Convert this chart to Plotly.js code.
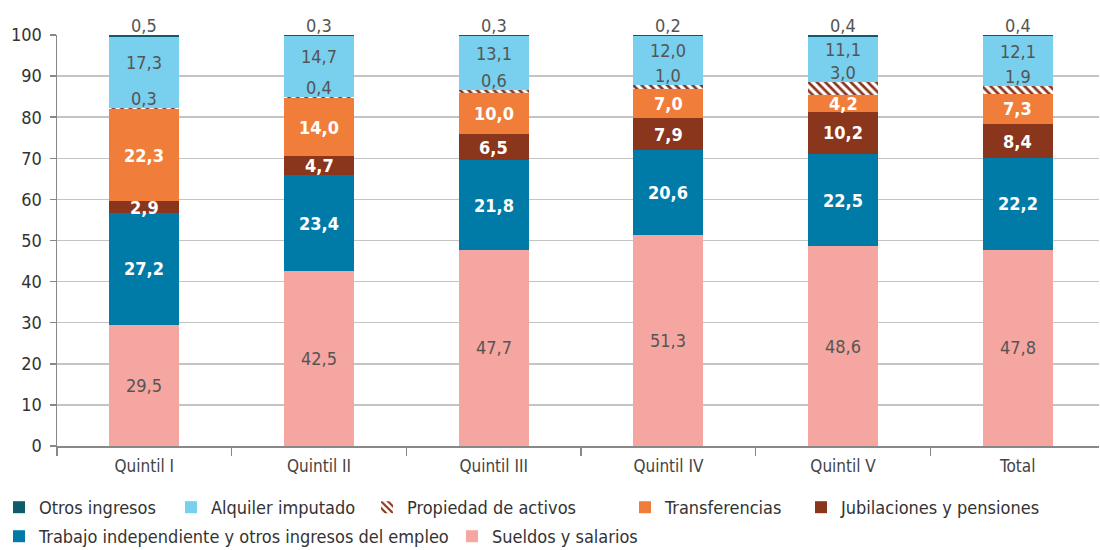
<!DOCTYPE html>
<html><head><meta charset="utf-8">
<script src="https://cdn.plot.ly/plotly-3.0.1.min.js"></script>
<style>html,body{margin:0;padding:0;background:#fff}#chart{width:1100px;height:550px}</style>
</head><body><div id="chart"></div>
<script>
var categories = ["Quintil I","Quintil II","Quintil III","Quintil IV","Quintil V","Total"];
var sueldos = [29.5, 42.5, 47.7, 51.3, 48.6, 47.8];
var trabajo = [27.2, 23.4, 21.8, 20.6, 22.5, 22.2];
var jubilaciones = [2.9, 4.7, 6.5, 7.9, 10.2, 8.4];
var transferencias = [22.3, 14.0, 10.0, 7.0, 4.2, 7.3];
var propiedad = [0.3, 0.4, 0.6, 1.0, 3.0, 1.9];
var alquiler = [17.3, 14.7, 13.1, 12.0, 11.1, 12.1];
var otros = [0.5, 0.3, 0.3, 0.2, 0.4, 0.4];
var yTicks = [0,10,20,30,40,50,60,70,80,90,100];

var FONT = '"Liberation Sans Narrow", "DejaVu Sans Condensed", "DejaVu Sans", sans-serif';
var series = [
  {name:"Sueldos y salarios", v:sueldos, color:"#f5a6a0", lab:"dark", lg:"legend7"},
  {name:"Trabajo independiente y otros ingresos del empleo", v:trabajo, color:"#007ba7", lab:"white", lg:"legend6"},
  {name:"Jubilaciones y pensiones", v:jubilaciones, color:"#8a361d", lab:"white", lg:"legend5"},
  {name:"Transferencias", v:transferencias, color:"#f07e3a", lab:"white", lg:"legend4"},
  {name:"Propiedad de activos", v:propiedad, color:"#ffffff", lab:"above", pattern:true, lg:"legend3"},
  {name:"Alquiler imputado", v:alquiler, color:"#78cfee", lab:"upper", lg:"legend2"},
  {name:"Otros ingresos", v:otros, color:"#0e5b6c", lab:"above", lg:"legend"}
];
function fmt(x){return x.toFixed(1).replace('.', ',');}

var traces = [];
var annotations = [];
var base = categories.map(function(){return 0;});
series.forEach(function(s){
  var marker = {color:s.color, line:{width:0}};
  if (s.pattern) marker.pattern = {shape:"\\", fgcolor:"#8a361d", bgcolor:"#ffffff", size:6, solidity:0.45, fillmode:"replace"};
  traces.push({type:"bar", name:s.name, x:categories, y:s.v, marker:marker, width:0.4, hoverinfo:"none", legend:s.lg});
  categories.forEach(function(c,i){
    var b = base[i], v = s.v[i];
    var a = {x:c, xref:"x", yref:"y", showarrow:false, text:fmt(v),
             font:{family:FONT, size:18, color:"#555555"}};
    if (s.lab === "white") { a.y = b + v/2; a.text = "<b>"+fmt(v)+"</b>"; a.font.color = "#ffffff"; }
    else if (s.lab === "dark") { a.y = b + v/2; }
    else if (s.lab === "upper") { a.y = b + v/2; a.yshift = 10; }
    else { a.y = Math.min(b + v, 99.9); a.yanchor = "bottom"; a.yshift = -3; }
    annotations.push(a);
    base[i] = b + v;
  });
});

// legend placement (pixel positions of the swatches converted to paper units)
var plotL = 57, plotW = 1042, plotB = 446, plotH = 411;
function lx(px){return (px - 13 - plotL)/plotW;}
function ly(py){return -(py - 13 - plotB)/plotH;}
function leg(px, py){
  return {orientation:"h", x:lx(px), xanchor:"left", y:ly(py), yanchor:"top",
          bgcolor:"rgba(0,0,0,0)", font:{family:FONT, size:18, color:"#333333"}};
}

var layout = {
  width:1100, height:550,
  margin:{l:57, r:1, t:35, b:104, autoexpand:false},
  barmode:"stack",
  paper_bgcolor:"#ffffff", plot_bgcolor:"#ffffff",
  font:{family:FONT, size:18, color:"#333333"},
  showlegend:true,
  legend: leg(12, 502),
  legend2: leg(184, 502),
  legend3: leg(380, 502),
  legend4: leg(638, 502),
  legend5: leg(814, 502),
  legend6: leg(12, 531),
  legend7: leg(465, 531),
  xaxis:{type:"category", range:[-0.5, 5.465], tickson:"boundaries", ticks:"outside", ticklen:8,
         ticklabelstandoff:4,
         tickcolor:"#888888", tickwidth:1.5, showline:true, linecolor:"#888888", linewidth:1.5,
         showgrid:false, tickfont:{family:FONT, size:17, color:"#444444"}, fixedrange:true},
  yaxis:{range:[0,100], tickvals:yTicks, ticks:"outside", ticklen:6, tickcolor:"#888888", tickwidth:1.5,
         ticklabelstandoff:4,
         showline:true, linecolor:"#888888", linewidth:1.5, gridcolor:"#c4c4c4", gridwidth:1.5,
         zeroline:false, tickfont:{family:FONT, size:18, color:"#333333"}, fixedrange:true},
  annotations:annotations
};
Plotly.newPlot("chart", traces, layout, {displayModeBar:false, staticPlot:true});
</script></body></html>
